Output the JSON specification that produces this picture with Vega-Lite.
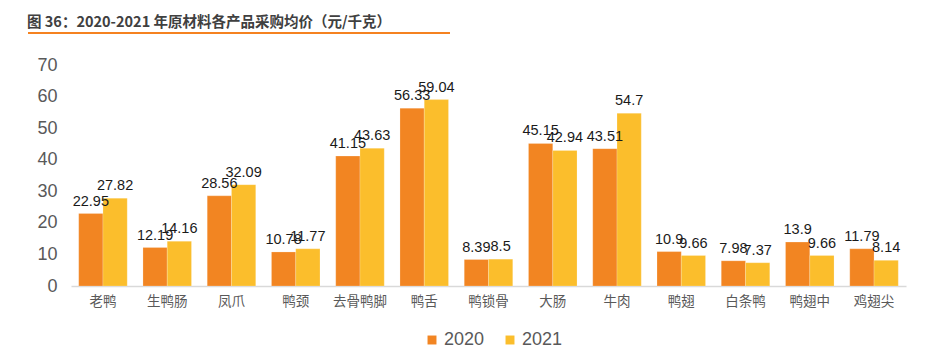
{
  "$schema": "https://vega.github.io/schema/vega-lite/v6.json",
  "width": 835,
  "height": 221,
  "autosize": {"type": "none"},
  "padding": {"left": 71, "top": 65, "right": 24, "bottom": 69},
  "background": "white",
  "title": {
    "text": "图 36：2020-2021 年原材料各产品采购均价（元/千克）",
    "anchor": "start",
    "frame": "group",
    "dx": -44,
    "offset": 2,
    "font": "Noto Sans CJK SC",
    "fontSize": 14.5,
    "fontWeight": "bold",
    "color": "#404040"
  },
  "config": {
    "view": {"stroke": null},
    "font": "Liberation Sans"
  },
  "data": {
    "values": [
      {"item": "老鸭", "year": "2020", "price": 22.95},
      {"item": "老鸭", "year": "2021", "price": 27.82},
      {"item": "生鸭肠", "year": "2020", "price": 12.19},
      {"item": "生鸭肠", "year": "2021", "price": 14.16},
      {"item": "凤爪", "year": "2020", "price": 28.56},
      {"item": "凤爪", "year": "2021", "price": 32.09},
      {"item": "鸭颈", "year": "2020", "price": 10.78},
      {"item": "鸭颈", "year": "2021", "price": 11.77},
      {"item": "去骨鸭脚", "year": "2020", "price": 41.15},
      {"item": "去骨鸭脚", "year": "2021", "price": 43.63},
      {"item": "鸭舌", "year": "2020", "price": 56.33},
      {"item": "鸭舌", "year": "2021", "price": 59.04},
      {"item": "鸭锁骨", "year": "2020", "price": 8.39},
      {"item": "鸭锁骨", "year": "2021", "price": 8.5},
      {"item": "大肠", "year": "2020", "price": 45.15},
      {"item": "大肠", "year": "2021", "price": 42.94},
      {"item": "牛肉", "year": "2020", "price": 43.51},
      {"item": "牛肉", "year": "2021", "price": 54.7},
      {"item": "鸭翅", "year": "2020", "price": 10.9},
      {"item": "鸭翅", "year": "2021", "price": 9.66},
      {"item": "白条鸭", "year": "2020", "price": 7.98},
      {"item": "白条鸭", "year": "2021", "price": 7.37},
      {"item": "鸭翅中", "year": "2020", "price": 13.9},
      {"item": "鸭翅中", "year": "2021", "price": 9.66},
      {"item": "鸡翅尖", "year": "2020", "price": 11.79},
      {"item": "鸡翅尖", "year": "2021", "price": 8.14}
    ]
  },
  "encoding": {
    "x": {
      "field": "item",
      "type": "nominal",
      "sort": null,
      "scale": {"paddingInner": 0.245, "paddingOuter": 0.12},
      "axis": {
        "title": null,
        "labelAngle": 0,
        "labelFont": "Noto Sans CJK SC",
        "labelFontSize": 13.5,
        "labelColor": "#595959",
        "labelPadding": 8,
        "ticks": false,
        "domainColor": "#D9D9D9",
        "domainWidth": 1.5
      }
    },
    "xOffset": {"field": "year", "type": "nominal", "scale": {"paddingInner": 0}},
    "y": {
      "field": "price",
      "type": "quantitative",
      "scale": {"domain": [0, 70]},
      "axis": {
        "title": null,
        "values": [0, 10, 20, 30, 40, 50, 60, 70],
        "labelOverlap": false,
        "grid": false,
        "domain": false,
        "ticks": false,
        "labelFontSize": 18,
        "labelColor": "#595959",
        "labelPadding": 14
      }
    }
  },
  "layer": [
    {
      "mark": {"type": "bar", "stroke": "white", "strokeWidth": 0.5, "strokeOpacity": 0.4},
      "encoding": {
        "color": {
          "field": "year",
          "type": "nominal",
          "scale": {"domain": ["2020", "2021"], "range": ["#F28522", "#FBBE2C"]},
          "legend": {
            "title": null,
            "orient": "none",
            "legendX": 352,
            "legendY": 266,
            "direction": "horizontal",
            "symbolType": "square",
            "symbolSize": 80,
            "symbolStrokeWidth": 0,
            "labelFontSize": 18,
            "labelColor": "#595959",
            "columnPadding": 16,
            "labelOffset": 3
          }
        }
      }
    },
    {
      "mark": {"type": "text", "dy": -5, "baseline": "bottom", "fontSize": 14.5, "color": "#1a1a1a"},
      "encoding": {"text": {"field": "price", "type": "quantitative"}}
    },
    {
      "mark": {"type": "rule", "color": "#F58220", "strokeWidth": 1.5},
      "encoding": {
        "x": {"value": -55},
        "x2": {"value": 379},
        "y": {"value": -32}
      }
    }
  ]
}
